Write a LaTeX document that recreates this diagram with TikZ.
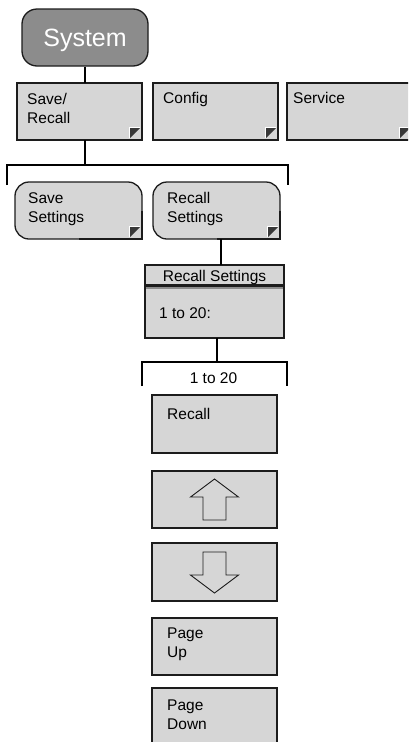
\documentclass[tikz,border=0pt]{standalone}
\usepackage{fontspec}
\setmainfont{Liberation Sans}
\usepackage{tikz}
\usetikzlibrary{calc}

\definecolor{keygray}{HTML}{D6D6D6}
\definecolor{sysgray}{HTML}{8C8C8C}
\definecolor{markgray}{HTML}{383838}
\definecolor{edgegray}{HTML}{1C1C1C}

\begin{document}
\begin{tikzpicture}[
                x=1pt, y=-1pt, % pixel coordinates, y downwards
                softkey/.style={draw=edgegray, line width=1.3pt, fill=keygray,
                    minimum width=125pt, minimum height=57pt, inner sep=0pt, outer sep=0pt},
                roundkey/.style={softkey, rounded corners=14pt, minimum width=127pt},
                keytext/.style={anchor=north west, align=left, inner sep=0pt,
                    font=\fontsize{15.5}{19}\selectfont},
                plaintext/.style={inner sep=0pt, font=\fontsize{15.5}{19}\selectfont},
                wire/.style={draw=black, line width=1.1pt},
            ]
            % page size
            \path[use as bounding box] (0,0) rectangle (408,742);
            \clip (0,0) rectangle (408,742);
            % corner mark of a softkey
            \def\keymark#1{
                \draw[white, line width=1pt] ($(#1.south east)+(-13,-2)$) -- ++(0,-11) -- ++(11,0);
                \fill[markgray] ($(#1.south east)+(-12,-12)$) -- ++(10,0) -- ++(-10,10) -- cycle;
            }
            % square bottom right corner of a rounded key
            \def\squarecorner#1{
                \fill[keygray] (#1.center) rectangle (#1.south east);
                \draw[draw=edgegray, line width=1.3pt] (#1.east) -- (#1.south east) -- (#1.south);
            }

            % top key
            \node[draw=edgegray, line width=1.3pt, fill=sysgray, rounded corners=15pt,
                minimum width=126pt, minimum height=57pt, inner sep=0pt] (sys) at (85,37.5) {};
            \node[anchor=base, inner sep=0pt, text=white, font=\fontsize{25}{30}\selectfont]
                (systext) at (85,46.5) {System};

            % first row
            \node[softkey] (save) at (79.5,111.5) {};
            \node[softkey] (config) at (215.5,111.5) {};
            \node[softkey] (service) at (349.5,111.5) {};
            \node[keytext] at ([shift={(10,10.5)}]save.north west) {Save/\\Recall};
            \node[keytext] at ([shift={(10,9.5)}]config.north west) {Config};
            \node[keytext] at ([shift={(6,9.5)}]service.north west) {Service};
            \keymark{save}
            \keymark{config}
            \keymark{service}

            % bracket below Save/Recall
            \coordinate (brTop) at (85,165);
            \coordinate (brL) at (7,185);
            \coordinate (brR) at (288,185);
            \draw[wire] (sys.south) -- (sys.south |- save.north);
            \draw[wire] (save.south -| brTop) -- (brTop);
            \draw[wire] (brL) -- (brL |- brTop) -- (brR |- brTop) -- (brR);

            % second row
            \node[roundkey] (savesets) at (78.5,210.5) {};
            \node[roundkey] (recallsets) at (216.5,210.5) {};
            \squarecorner{savesets}
            \squarecorner{recallsets}
            \node[keytext] at ([shift={(13,10)}]savesets.north west) {Save\\Settings};
            \node[keytext] at ([shift={(14,10)}]recallsets.north west) {Recall\\Settings};
            \keymark{savesets}
            \keymark{recallsets}

            % dialog
            \node[softkey, minimum width=139pt, minimum height=73pt] (dlg) at (214.5,301.5) {};
            \draw[wire] ([xshift=4.5pt]recallsets.south) -- ([xshift=4.5pt]recallsets.south |- dlg.north);
            \draw[edgegray, line width=2.2pt] ($(dlg.north west)+(0,20.5)$) -- ($(dlg.north east)+(0,20.5)$);
            \draw[black!45, line width=2.6pt] ($(dlg.north west)+(0.6,23)$) -- ($(dlg.north east)+(-0.6,23)$);
            \node[plaintext, anchor=base] (dlgtitle) at (214.5,281) {Recall Settings};
            \node[plaintext, anchor=base west] (dlgrange) at (159,318) {1 to 20:};

            % bracket below dialog
            \coordinate (br2Top) at (217,362);
            \coordinate (br2L) at (142,386);
            \coordinate (br2R) at (287,386);
            \draw[wire] (dlg.south -| br2Top) -- (br2Top);
            \draw[wire] (br2L) -- (br2L |- br2Top) -- (br2R |- br2Top) -- (br2R);
            \node[plaintext, anchor=base] (rangelbl) at (213.5,383) {1 to 20};

            % column of keys
            \node[softkey, minimum height=58pt] (recallkey) at (214.5,424) {};
            \node[softkey] (upkey) at (214.5,499.5) {};
            \node[softkey, minimum height=58pt] (downkey) at (214.5,572) {};
            \node[softkey] (pgup) at (214.5,646.5) {};
            \node[softkey, minimum height=58pt] (pgdn) at (214.5,717) {};
            \node[keytext] at ([shift={(15,13.5)}]recallkey.north west) {Recall};
            \node[keytext] at ([shift={(15,10)}]pgup.north west) {Page\\Up};
            \node[keytext] at ([shift={(15,11.5)}]pgdn.north west) {Page\\Down};

            % arrows
            \draw[edgegray, line width=0.9pt, line join=miter]
                ($(upkey.center)+(0,-20.5)$) -- ++(24,18) -- ++(-12.5,0) -- ++(0,23)
                -- ++(-23,0) -- ++(0,-23) -- ++(-12.5,0) -- cycle;
            \draw[edgegray, line width=0.9pt, line join=miter]
                ($(downkey.center)+(0,21)$) -- ++(24,-18) -- ++(-12.5,0) -- ++(0,-23)
                -- ++(-23,0) -- ++(0,23) -- ++(-12.5,0) -- cycle;
            \end{tikzpicture}
\end{document}
